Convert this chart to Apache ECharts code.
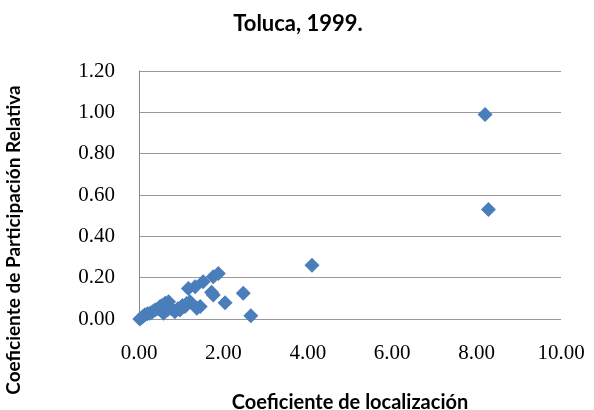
<!DOCTYPE html>
<html>
<head>
<meta charset="utf-8">
<script src="https://cdn.jsdelivr.net/npm/echarts@6/dist/echarts.min.js"></script>
<style>html,body{margin:0;padding:0;background:#fff}#c{width:594px;height:410px}</style>
</head>
<body>
<div id="c"></div>
<script>
var titleText = 'Toluca, 1999.';
var xName = 'Coeficiente de localización';
var yName = 'Coeficiente de Participación Relativa';
var xLoc = [0.02, 0.08, 0.14, 0.20, 0.26, 0.32, 0.38, 0.45, 0.50, 0.55, 0.58, 0.62, 0.68, 0.70, 0.77, 0.85, 0.92, 0.97, 1.03, 1.09, 1.13, 1.21, 1.17, 1.33, 1.37, 1.45, 1.52, 1.72, 1.76, 1.76, 1.88, 2.04, 2.47, 2.65, 4.10, 8.20, 8.28];
var yPart = [0.00, 0.01, 0.02, 0.025, 0.028, 0.035, 0.044, 0.05, 0.06, 0.065, 0.028, 0.076, 0.045, 0.084, 0.05, 0.035, 0.05, 0.044, 0.065, 0.06, 0.075, 0.084, 0.148, 0.156, 0.052, 0.06, 0.18, 0.13, 0.116, 0.205, 0.22, 0.079, 0.124, 0.016, 0.26, 0.99, 0.53];
var points = xLoc.map(function (v, i) { return [v, yPart[i]]; });

var chart = echarts.init(document.getElementById('c'));
chart.setOption({
  animation: false,
  title: {
    text: titleText, left: 293, top: 8, textAlign: 'center',
    textStyle: { fontFamily: 'Lato', fontWeight: 'bold', fontSize: 22, color: '#000' }
  },
  grid: { left: 139, right: 33, top: 71, bottom: 91, outerBoundsMode: 'none', containLabel: false },
  xAxis: {
    type: 'value', min: 0, max: 10, interval: 2,
    name: xName, nameLocation: 'middle', nameGap: 74,
    nameTextStyle: { fontFamily: 'Lato', fontWeight: 'bold', fontSize: 20, color: '#000' },
    axisLine: { show: false }, axisTick: { show: false }, splitLine: { show: false },
    axisLabel: { formatter: function (v) { return v.toFixed(2); }, margin: 24, fontFamily: 'Liberation Serif', fontSize: 21, color: '#000' }
  },
  yAxis: {
    type: 'value', min: 0, max: 1.2, interval: 0.2,
    axisLine: { show: true, lineStyle: { color: '#888', width: 1 } }, axisTick: { show: false },
    splitLine: { show: true, lineStyle: { color: '#999', width: 1 } },
    axisLabel: { formatter: function (v) { return v.toFixed(2); }, margin: 24, fontFamily: 'Liberation Serif', fontSize: 21, color: '#000' }
  },
  graphic: [{
    type: 'text', x: 14, y: 240, rotation: Math.PI / 2,
    style: { text: yName, fontFamily: 'Lato', fontWeight: 'bold', fontSize: 19, fill: '#000', align: 'center', verticalAlign: 'middle' }
  }],
  series: [{
    type: 'scatter', data: points, symbol: 'diamond', symbolSize: 15,
    itemStyle: { color: '#4a7ebb', opacity: 1 }
  }]
});
</script>
</body>
</html>
